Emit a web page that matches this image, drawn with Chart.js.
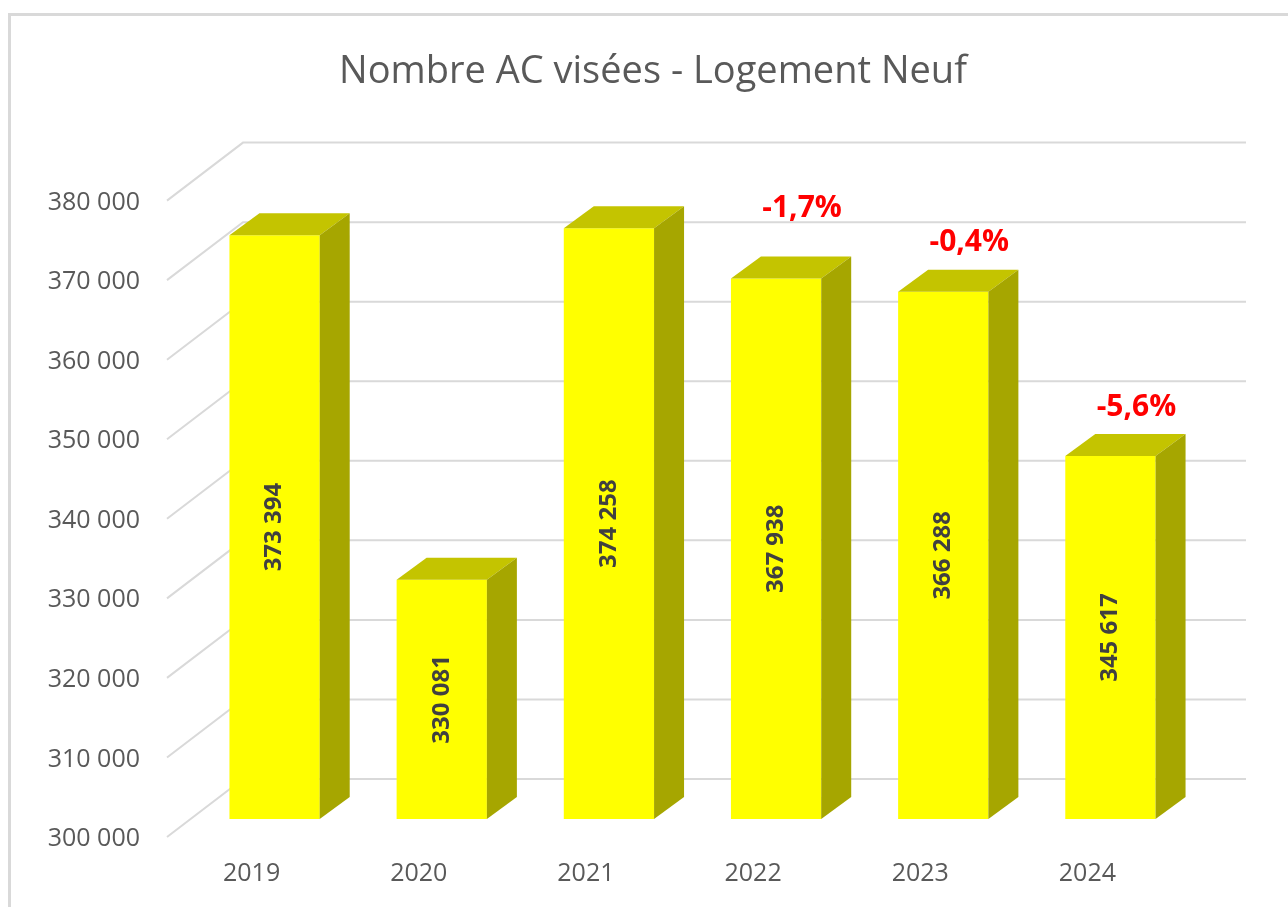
<!DOCTYPE html>
<html lang="fr">
<head>
    <meta charset="UTF-8">
    <title>Nombre AC visées - Logement Neuf</title>
    <script src="https://cdn.jsdelivr.net/npm/chart.js"></script>
    <style>
        body, html {
            margin: 0;
            padding: 0;
            background: #fff;
            overflow: hidden;
        }
        .frame {
            position: absolute;
            left: 8px;
            top: 13px;
            width: 1300px;
            height: 920px;
            border: 3px solid #d9d9d9;
        }
        canvas {
            position: absolute;
            left: 0;
            top: 0;
        }
    </style>
</head>
<body>
    <div class="frame"></div>
    <canvas id="acChart" width="1288" height="907"></canvas>

    <script>
        // données
        const years = ['2019', '2020', '2021', '2022', '2023', '2024'];
        const acCount = [373394, 330081, 374258, 367938, 366288, 345617];
        const evolution = [null, null, null, '-1,7%', '-0,4%', '-5,6%'];
        const yMin = 300000;
        const yMax = 380000;
        const yStep = 10000;

        const fmt = v => String(v).replace(/\B(?=(\d{3})+(?!\d))/g, ' ');

        // depth offsets (px) relative to the plane of the bar fronts
        const DEPTH = { bar: [30, -22], front: [-24, 18], back: [52, -40] };
        // how far the % labels sit above the bar top (first one was moved up by hand in the original)
        const LIFT = [49, 49, 49, 70, 49, 49];

        const bars3d = {
            id: 'bars3d',
            beforeDatasetsDraw(chart) {
                // back wall + left wall gridlines
                const { ctx, chartArea, scales } = chart;
                const y = scales.y;
                ctx.save();
                ctx.strokeStyle = '#d9d9d9';
                ctx.lineWidth = 2;
                y.ticks.forEach(t => {
                    const py = y.getPixelForValue(t.value);
                    ctx.beginPath();
                    ctx.moveTo(chartArea.left + DEPTH.front[0], py + DEPTH.front[1]);
                    ctx.lineTo(chartArea.left + DEPTH.back[0], py + DEPTH.back[1]);
                    ctx.lineTo(chartArea.right + DEPTH.back[0], py + DEPTH.back[1]);
                    ctx.stroke();
                });
                ctx.restore();
            },
            afterDatasetsDraw(chart) {
                const { ctx } = chart;
                const meta = chart.getDatasetMeta(0);
                const base = chart.scales.y.getPixelForValue(yMin);
                const [dx, dy] = DEPTH.bar;
                ctx.save();
                meta.data.forEach((bar, i) => {
                    const { x, y, width } = bar;
                    const x0 = x - width / 2, x1 = x + width / 2;
                    // top
                    ctx.fillStyle = '#c4c400';
                    ctx.beginPath();
                    ctx.moveTo(x0, y);
                    ctx.lineTo(x1, y);
                    ctx.lineTo(x1 + dx, y + dy);
                    ctx.lineTo(x0 + dx, y + dy);
                    ctx.closePath();
                    ctx.fill();
                    // side
                    ctx.fillStyle = '#a6a600';
                    ctx.beginPath();
                    ctx.moveTo(x1, y);
                    ctx.lineTo(x1 + dx, y + dy);
                    ctx.lineTo(x1 + dx, base + dy);
                    ctx.lineTo(x1, base);
                    ctx.closePath();
                    ctx.fill();

                    // value inside the bar
                    ctx.save();
                    ctx.translate(x, (y + base) / 2);
                    ctx.rotate(-Math.PI / 2);
                    ctx.fillStyle = '#404040';
                    ctx.font = 'bold 24px "Open Sans"';
                    ctx.textAlign = 'center';
                    ctx.textBaseline = 'middle';
                    ctx.fillText(fmt(acCount[i]), 0, 0);
                    ctx.restore();

                    // evolution label
                    if (evolution[i]) {
                        ctx.fillStyle = '#ff0000';
                        ctx.font = 'bold 30px "Open Sans"';
                        ctx.textAlign = 'center';
                        ctx.textBaseline = 'middle';
                        ctx.fillText(evolution[i], x + 26, y - LIFT[i]);
                    }
                });
                ctx.restore();
            }
        };

        const ctx = document.getElementById('acChart').getContext('2d');
        const acChart = new Chart(ctx, {
            type: 'bar',
            data: {
                labels: years,
                datasets: [{
                    data: acCount,
                    backgroundColor: '#ffff00',
                    borderWidth: 0,
                    barPercentage: 0.54,
                    categoryPercentage: 1
                }]
            },
            options: {
                responsive: false,
                animation: false,
                layout: {
                    padding: { left: 18, right: 0, top: 0, bottom: 18 }
                },
                plugins: {
                    legend: { display: false },
                    tooltip: { enabled: false },
                    title: {
                        display: true,
                        text: 'Nombre AC visées - Logement Neuf',
                        color: '#595959',
                        font: { family: 'Open Sans', size: 38, weight: 'normal' },
                        padding: { top: 49, bottom: 88 }
                    }
                },
                scales: {
                    x: {
                        grid: { display: false, drawTicks: false },
                        border: { display: false },
                        afterFit: s => { s.height = 70; },
                        ticks: {
                            color: '#595959',
                            font: { family: 'Open Sans', size: 25 },
                            padding: 40,
                            labelOffset: -23,
                            maxRotation: 0
                        }
                    },
                    y: {
                        min: yMin,
                        max: yMax,
                        grid: { display: false, drawTicks: false },
                        border: { display: false },
                        afterFit: s => { s.width = 173; },
                        ticks: {
                            stepSize: yStep,
                            color: '#595959',
                            font: { family: 'Open Sans', size: 25 },
                            padding: 51,
                            labelOffset: 20,
                            callback: v => fmt(v)
                        }
                    },
                    // empty right margin (room for the depth of the back wall)
                    yRight: {
                        type: 'linear',
                        position: 'right',
                        display: true,
                        grid: { display: false, drawTicks: false },
                        border: { display: false },
                        ticks: { display: false },
                        afterFit: s => { s.width = 94; }
                    }
                }
            },
            plugins: [bars3d]
        });
    </script>
</body>
</html>
